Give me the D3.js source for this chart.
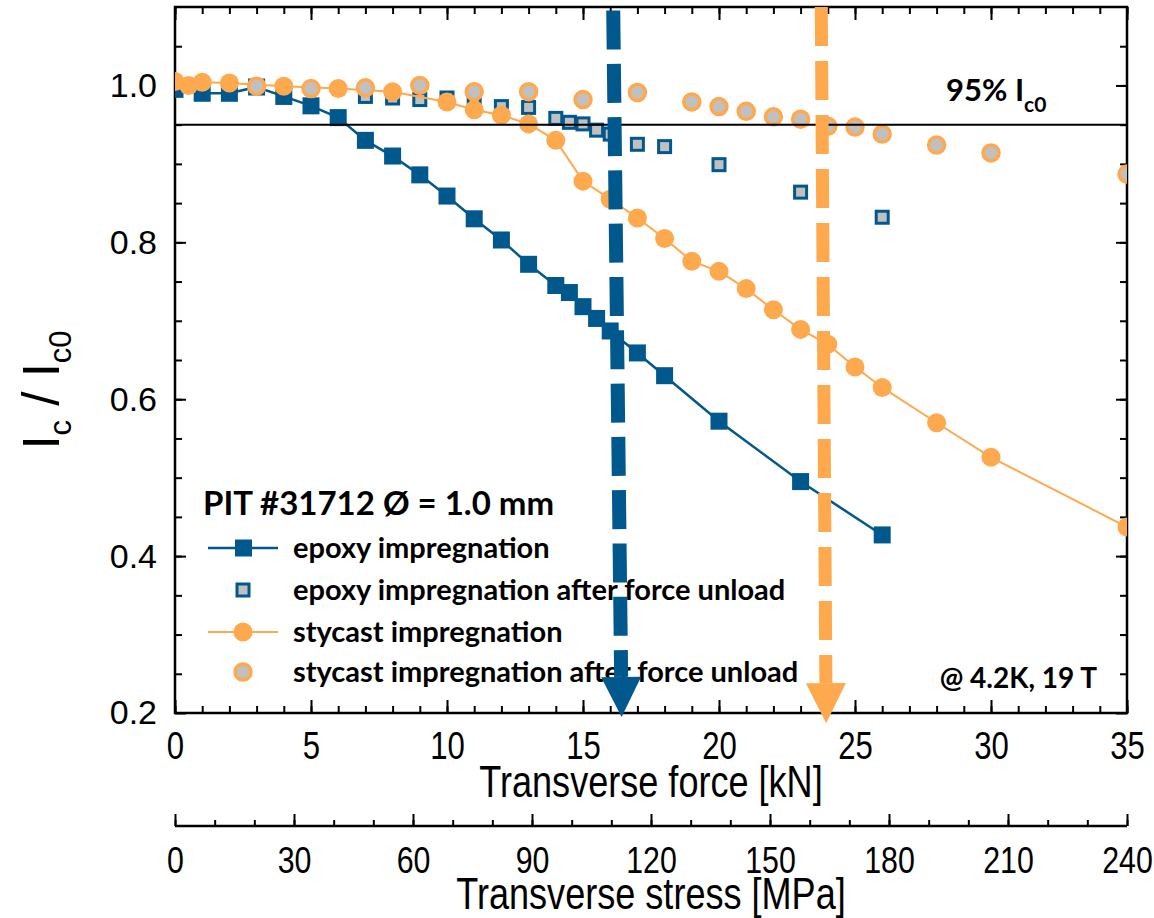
<!DOCTYPE html>
<html>
<head>
<meta charset="utf-8">
<script src="https://cdnjs.cloudflare.com/ajax/libs/d3/7.8.5/d3.min.js"></script>
<style>
  body { margin: 0; background: #fff; }
  svg { display: block; }
  .narrow { font-family: "Liberation Sans", Arial, sans-serif; }
  .tick text { fill: #000; }
  .bold { font-family: Lato, "Open Sans", sans-serif; font-weight: bold; }
</style>
</head>
<body>
<div id="chart"></div>
<script>
  // force [kN] vs Ic/Ic0
  const epoxyForce = [0, 1, 2, 3, 4, 5, 6, 7, 8, 9, 10, 11, 12, 13, 14, 14.5, 15, 15.5, 16, 17, 18, 20, 23, 26];
  const epoxyIc = [0.995, 0.990, 0.990, 0.998, 0.986, 0.974, 0.959, 0.930, 0.910, 0.886, 0.859, 0.830, 0.803, 0.772, 0.745, 0.736, 0.718, 0.703, 0.687, 0.659, 0.630, 0.572, 0.495, 0.427];
  const epoxyUnloadForce = [7, 8, 9, 10, 11, 12, 13, 14, 14.5, 15, 15.5, 16, 17, 18, 20, 23, 26];
  const epoxyUnloadIc = [0.986, 0.984, 0.982, 0.984, 0.979, 0.973, 0.972, 0.958, 0.953, 0.951, 0.943, 0.938, 0.925, 0.922, 0.899, 0.864, 0.832];
  const stycastForce = [0, 0.5, 1, 2, 4, 6, 8, 10, 11, 12, 13, 14, 15, 16, 17, 18, 19, 20, 21, 22, 23, 24, 25, 26, 28, 30, 35];
  const stycastIc = [1.005, 1.000, 1.004, 1.003, 0.999, 0.996, 0.992, 0.979, 0.969, 0.962, 0.951, 0.930, 0.878, 0.855, 0.831, 0.805, 0.776, 0.763, 0.741, 0.714, 0.689, 0.670, 0.641, 0.615, 0.570, 0.526, 0.437];
  const stycastUnloadForce = [3, 5, 7, 9, 11, 13, 15, 17, 19, 20, 21, 22, 23, 24, 25, 26, 28, 30, 35];
  const stycastUnloadIc = [0.999, 0.996, 0.997, 1.000, 0.992, 0.992, 0.982, 0.991, 0.979, 0.973, 0.967, 0.960, 0.957, 0.948, 0.947, 0.938, 0.924, 0.914, 0.887];

  // dashed arrows: force at top / at tip, Ic at top / at tip
  const epoxyArrowForce = [16.11, 16.42];
  const epoxyArrowIc = [1.1, 0.195];
  const stycastArrowForce = [23.76, 23.94];
  const stycastArrowIc = [1.1, 0.187];

  const criterion = 0.95;
  const legendLabels = ['epoxy impregnation', 'epoxy impregnation after force unload',
    'stycast impregnation', 'stycast impregnation after force unload'];

  const blue = '#00588c', orange = '#ffa94f', gray = '#c0c0c0';
  const width = 1154, height = 918;
  const margin = { top: 7, right: 27, bottom: 205, left: 175 };
  const squeeze = 0.82; // narrow look for the x labels

  const svg = d3.select('#chart').append('svg')
    .attr('width', width).attr('height', height);

  const x = d3.scaleLinear().domain([0, 35]).range([margin.left, width - margin.right]);
  const y = d3.scaleLinear().domain([0.2, 1.1]).range([height - margin.bottom, margin.top]);
  const stress = d3.scaleLinear().domain([0, 240]).range(x.range());

  const x0 = x.range()[0], x1 = x.range()[1], y0 = y.range()[0], y1 = y.range()[1];

  svg.append('clipPath').attr('id', 'plot')
    .append('rect').attr('x', x0).attr('y', y1).attr('width', x1 - x0).attr('height', y0 - y1);

  function styleAxis(g) {
    g.select('.domain').remove();
    g.selectAll('.tick line').attr('stroke', '#000').attr('stroke-width', 2);
  }

  // bottom force axis
  svg.append('g').attr('transform', `translate(0,${y0})`)
    .call(d3.axisBottom(x).ticks(35).tickSize(-7).tickFormat(''))
    .call(styleAxis);
  svg.append('g').attr('class', 'narrow').attr('transform', `translate(0,${y0})`)
    .call(d3.axisBottom(x).tickValues(d3.range(0, 36, 5)).tickSize(-13).tickPadding(19))
    .call(styleAxis)
    .call(g => g.selectAll('text').attr('font-size', 38).attr('transform', `scale(${squeeze},1)`));
  // top mirror
  svg.append('g').attr('transform', `translate(0,${y1})`)
    .call(d3.axisTop(x).ticks(35).tickSize(-7).tickFormat(''))
    .call(styleAxis);
  svg.append('g').attr('transform', `translate(0,${y1})`)
    .call(d3.axisTop(x).tickValues(d3.range(0, 36, 5)).tickSize(-13).tickFormat(''))
    .call(styleAxis);

  // left axis
  svg.append('g').attr('transform', `translate(${x0},0)`)
    .call(d3.axisLeft(y).tickValues(d3.range(0.25, 1.1, 0.05)).tickSize(-7).tickFormat(''))
    .call(styleAxis);
  svg.append('g').attr('transform', `translate(${x0},0)`)
    .call(d3.axisLeft(y).tickValues([0.2, 0.4, 0.6, 0.8, 1.0]).tickSize(-11).tickPadding(18).tickFormat(d3.format('.1f')))
    .call(styleAxis)
    .call(g => g.selectAll('text').attr('font-family', '"Liberation Sans", Arial, sans-serif').attr('font-size', 34));
  // right mirror
  svg.append('g').attr('transform', `translate(${x1},0)`)
    .call(d3.axisRight(y).tickValues(d3.range(0.25, 1.1, 0.05)).tickSize(-7).tickFormat(''))
    .call(styleAxis);
  svg.append('g').attr('transform', `translate(${x1},0)`)
    .call(d3.axisRight(y).tickValues([0.2, 0.4, 0.6, 0.8, 1.0]).tickSize(-11).tickFormat(''))
    .call(styleAxis);

  // stress axis
  const sy = 826;
  svg.append('g').attr('transform', `translate(0,${sy})`)
    .call(d3.axisBottom(stress).ticks(24).tickSize(-6).tickFormat(''))
    .call(styleAxis);
  svg.append('g').attr('class', 'narrow').attr('transform', `translate(0,${sy})`)
    .call(d3.axisBottom(stress).tickValues(d3.range(0, 241, 30)).tickSize(-12).tickPadding(21))
    .call(styleAxis)
    .call(g => g.selectAll('text').attr('font-size', 37).attr('transform', `scale(${squeeze},1)`));
  svg.append('line').attr('x1', x0).attr('x2', x1).attr('y1', sy).attr('y2', sy)
    .attr('stroke', '#000').attr('stroke-width', 2.5);

  svg.append('text').attr('class', 'narrow')
    .attr('transform', `translate(${(x0 + x1) / 2},797) scale(${squeeze},1)`)
    .attr('text-anchor', 'middle').attr('font-size', 44).text('Transverse force [kN]');
  svg.append('text').attr('class', 'narrow')
    .attr('transform', `translate(${(x0 + x1) / 2},909) scale(${squeeze},1)`)
    .attr('text-anchor', 'middle').attr('font-size', 44).text('Transverse stress [MPa]');

  // y title
  const yt = svg.append('text').attr('transform', 'translate(59,390) rotate(-90)')
    .attr('text-anchor', 'middle').attr('font-family', '"Liberation Sans", Arial, sans-serif').attr('font-size', 51);
  yt.append('tspan').text('I');
  yt.append('tspan').attr('font-size', 31).attr('dy', 12).text('c');
  yt.append('tspan').attr('dy', -12).text(' / I');
  yt.append('tspan').attr('font-size', 31).attr('dy', 12).text('c0');

  // frame
  svg.append('rect').attr('x', x0).attr('y', y1).attr('width', x1 - x0).attr('height', y0 - y1)
    .attr('fill', 'none').attr('stroke', '#000').attr('stroke-width', 2.5);

  const plot = svg.append('g').attr('clip-path', 'url(#plot)');

  const epoxy = epoxyForce.map((f, i) => [f, epoxyIc[i]]);
  const epoxyUnload = epoxyUnloadForce.map((f, i) => [f, epoxyUnloadIc[i]]);
  const stycast = stycastForce.map((f, i) => [f, stycastIc[i]]);
  const stycastUnload = stycastUnloadForce.map((f, i) => [f, stycastUnloadIc[i]]);
  const line = d3.line().x(d => x(d[0])).y(d => y(d[1]));

  plot.append('path').datum(epoxy).attr('d', line)
    .attr('fill', 'none').attr('stroke', blue).attr('stroke-width', 2.5);
  plot.selectAll('.esq').data(epoxy).join('rect')
    .attr('x', d => x(d[0]) - 8.5).attr('y', d => y(d[1]) - 8.5)
    .attr('width', 17).attr('height', 17).attr('fill', blue);
  plot.selectAll('.eun').data(epoxyUnload).join('rect')
    .attr('x', d => x(d[0]) - 6).attr('y', d => y(d[1]) - 6)
    .attr('width', 12).attr('height', 12).attr('fill', gray).attr('stroke', blue).attr('stroke-width', 3);

  plot.append('path').datum(stycast).attr('d', line)
    .attr('fill', 'none').attr('stroke', orange).attr('stroke-width', 2);
  plot.selectAll('.sci').data(stycast).join('circle')
    .attr('cx', d => x(d[0])).attr('cy', d => y(d[1])).attr('r', 9.5).attr('fill', orange);
  plot.selectAll('.sun').data(stycastUnload).join('circle')
    .attr('cx', d => x(d[0])).attr('cy', d => y(d[1])).attr('r', 8)
    .attr('fill', gray).attr('stroke', orange).attr('stroke-width', 3.5);

  plot.append('line').attr('x1', x0).attr('x2', x1).attr('y1', y(criterion)).attr('y2', y(criterion))
    .attr('stroke', '#000').attr('stroke-width', 2);

  // labels
  const lab = svg.append('text').attr('class', 'bold').attr('x', 946).attr('y', 101).attr('font-size', 31);
  lab.append('tspan').text('95% I');
  lab.append('tspan').attr('font-size', 21).attr('dy', 11).text('c0');
  svg.append('text').attr('class', 'bold').attr('x', 1097).attr('y', 688)
    .attr('text-anchor', 'end').attr('font-size', 28).text('@ 4.2K, 19 T');

  // legend
  svg.append('text').attr('class', 'bold').attr('x', 203).attr('y', 515)
    .attr('font-size', 33).text('PIT #31712 Ø = 1.0 mm');
  const legY = [548, 590, 632, 672];
  const lg = svg.append('g');
  lg.append('line').attr('x1', 208).attr('x2', 278).attr('y1', legY[0]).attr('y2', legY[0])
    .attr('stroke', blue).attr('stroke-width', 2.5);
  lg.append('rect').attr('x', 235).attr('y', legY[0] - 8.5).attr('width', 17).attr('height', 17).attr('fill', blue);
  lg.append('rect').attr('x', 237).attr('y', legY[1] - 6).attr('width', 12).attr('height', 12)
    .attr('fill', gray).attr('stroke', blue).attr('stroke-width', 3);
  lg.append('line').attr('x1', 208).attr('x2', 278).attr('y1', legY[2]).attr('y2', legY[2])
    .attr('stroke', orange).attr('stroke-width', 2);
  lg.append('circle').attr('cx', 243).attr('cy', legY[2]).attr('r', 9.5).attr('fill', orange);
  lg.append('circle').attr('cx', 243).attr('cy', legY[3]).attr('r', 8)
    .attr('fill', gray).attr('stroke', orange).attr('stroke-width', 3.5);
  lg.selectAll('.lt').data(legendLabels).join('text').attr('class', 'bold')
    .attr('x', 293).attr('y', (d, i) => legY[i]).attr('dy', '0.35em')
    .attr('font-size', 29).text(d => d);

  // dashed arrows
  function arrow(fx, ic, color, dash, offset, w) {
    const ax = x(fx[0]), ay = y(ic[0]), bx = x(fx[1]), by = y(ic[1]);
    const len = Math.hypot(bx - ax, by - ay), ux = (bx - ax) / len, uy = (by - ay) / len;
    const head = 40, half = 20;
    const hx = bx - ux * head, hy = by - uy * head;
    svg.append('line').attr('x1', ax).attr('y1', ay).attr('x2', hx).attr('y2', hy)
      .attr('stroke', color).attr('stroke-width', w)
      .attr('stroke-dasharray', dash).attr('stroke-dashoffset', offset);
    svg.append('path')
      .attr('d', `M${bx},${by}L${hx - uy * half},${hy + ux * half}L${hx + uy * half},${hy - ux * half}Z`)
      .attr('fill', color);
  }
  arrow(epoxyArrowForce, epoxyArrowIc, blue, '39,14.3', -3.5, 14);
  arrow(stycastArrowForce, stycastArrowIc, orange, '39,15', 0, 13);
</script>
</body>
</html>
